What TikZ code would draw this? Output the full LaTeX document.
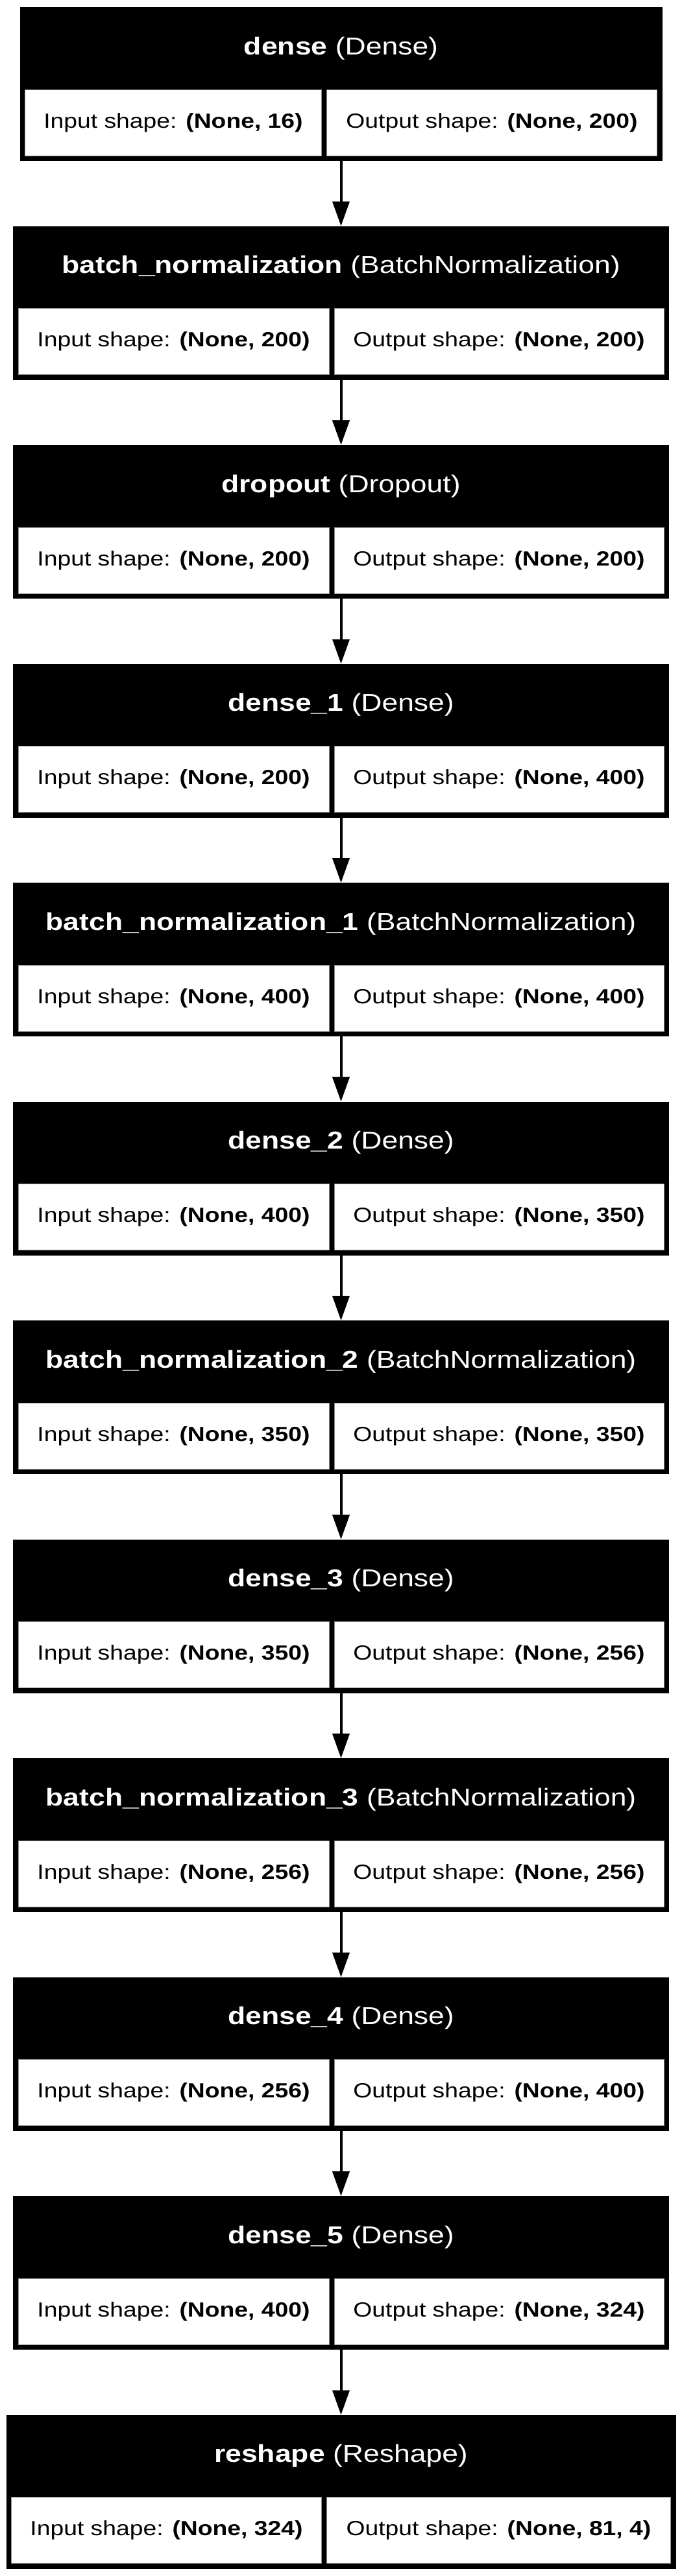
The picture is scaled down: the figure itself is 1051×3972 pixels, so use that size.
\documentclass[tikz,border=0pt]{standalone}
\usepackage{fontspec}
\setmainfont{Liberation Sans}[FakeStretch=1.18]
\usetikzlibrary{positioning,arrows.meta}
\tikzset{%
	layerbox/.style = {fill=black, rectangle, minimum height=237pt, inner sep=0pt, outer sep=0pt}, % Layer
	heading/.style  = {text=white, anchor=north, minimum height=127pt, inner sep=0pt, font=\fontsize{37.7}{44}\selectfont}, % Layer name
	iocell/.style   = {fill=white, draw=black!45, line width=1pt, rectangle, minimum height=102pt, inner sep=0pt, outer sep=0pt, font=\fontsize{31.6}{38}\selectfont}, % Shapes
	arrow/.style    = {line width=4pt, -{Triangle[length=38pt, width=26pt]}},
}
\begin{document}
\begin{tikzpicture}[x=1pt, y=1pt, node distance=100.5pt]
		\useasboundingbox (0,0) rectangle (1051,-3972);
		\node [layerbox, minimum width=990pt] (dense) at (525.5,-129.5) {};
		\node [heading] (dense-t) at (dense.north) {\textbf{dense} (Dense)};
		\node [iocell, minimum width=457pt, below right=127pt and 8pt of dense.north west] (dense-in) {Input shape: \textbf{(None, 16)}};
		\node [iocell, minimum width=509pt, right=8pt of dense-in] (dense-out) {Output shape: \textbf{(None, 200)}};
		
		\node [layerbox, minimum width=1011pt, below=of dense] (bn) {};
		\node [heading] (bn-t) at (bn.north) {\textbf{batch\_normalization} (BatchNormalization)};
		\node [iocell, minimum width=479pt, below right=127pt and 8pt of bn.north west] (bn-in) {Input shape: \textbf{(None, 200)}};
		\node [iocell, minimum width=508pt, right=8pt of bn-in] (bn-out) {Output shape: \textbf{(None, 200)}};
		
		\node [layerbox, minimum width=1011pt, below=of bn] (dropout) {};
		\node [heading] (dropout-t) at (dropout.north) {\textbf{dropout} (Dropout)};
		\node [iocell, minimum width=479pt, below right=127pt and 8pt of dropout.north west] (dropout-in) {Input shape: \textbf{(None, 200)}};
		\node [iocell, minimum width=508pt, right=8pt of dropout-in] (dropout-out) {Output shape: \textbf{(None, 200)}};
		
		\node [layerbox, minimum width=1011pt, below=of dropout] (dense1) {};
		\node [heading] (dense1-t) at (dense1.north) {\textbf{dense\_1} (Dense)};
		\node [iocell, minimum width=479pt, below right=127pt and 8pt of dense1.north west] (dense1-in) {Input shape: \textbf{(None, 200)}};
		\node [iocell, minimum width=508pt, right=8pt of dense1-in] (dense1-out) {Output shape: \textbf{(None, 400)}};
		
		\node [layerbox, minimum width=1011pt, below=of dense1] (bn1) {};
		\node [heading] (bn1-t) at (bn1.north) {\textbf{batch\_normalization\_1} (BatchNormalization)};
		\node [iocell, minimum width=479pt, below right=127pt and 8pt of bn1.north west] (bn1-in) {Input shape: \textbf{(None, 400)}};
		\node [iocell, minimum width=508pt, right=8pt of bn1-in] (bn1-out) {Output shape: \textbf{(None, 400)}};
		
		\node [layerbox, minimum width=1011pt, below=of bn1] (dense2) {};
		\node [heading] (dense2-t) at (dense2.north) {\textbf{dense\_2} (Dense)};
		\node [iocell, minimum width=479pt, below right=127pt and 8pt of dense2.north west] (dense2-in) {Input shape: \textbf{(None, 400)}};
		\node [iocell, minimum width=508pt, right=8pt of dense2-in] (dense2-out) {Output shape: \textbf{(None, 350)}};
		
		\node [layerbox, minimum width=1011pt, below=of dense2] (bn2) {};
		\node [heading] (bn2-t) at (bn2.north) {\textbf{batch\_normalization\_2} (BatchNormalization)};
		\node [iocell, minimum width=479pt, below right=127pt and 8pt of bn2.north west] (bn2-in) {Input shape: \textbf{(None, 350)}};
		\node [iocell, minimum width=508pt, right=8pt of bn2-in] (bn2-out) {Output shape: \textbf{(None, 350)}};
		
		\node [layerbox, minimum width=1011pt, below=of bn2] (dense3) {};
		\node [heading] (dense3-t) at (dense3.north) {\textbf{dense\_3} (Dense)};
		\node [iocell, minimum width=479pt, below right=127pt and 8pt of dense3.north west] (dense3-in) {Input shape: \textbf{(None, 350)}};
		\node [iocell, minimum width=508pt, right=8pt of dense3-in] (dense3-out) {Output shape: \textbf{(None, 256)}};
		
		\node [layerbox, minimum width=1011pt, below=of dense3] (bn3) {};
		\node [heading] (bn3-t) at (bn3.north) {\textbf{batch\_normalization\_3} (BatchNormalization)};
		\node [iocell, minimum width=479pt, below right=127pt and 8pt of bn3.north west] (bn3-in) {Input shape: \textbf{(None, 256)}};
		\node [iocell, minimum width=508pt, right=8pt of bn3-in] (bn3-out) {Output shape: \textbf{(None, 256)}};
		
		\node [layerbox, minimum width=1011pt, below=of bn3] (dense4) {};
		\node [heading] (dense4-t) at (dense4.north) {\textbf{dense\_4} (Dense)};
		\node [iocell, minimum width=479pt, below right=127pt and 8pt of dense4.north west] (dense4-in) {Input shape: \textbf{(None, 256)}};
		\node [iocell, minimum width=508pt, right=8pt of dense4-in] (dense4-out) {Output shape: \textbf{(None, 400)}};
		
		\node [layerbox, minimum width=1011pt, below=of dense4] (dense5) {};
		\node [heading] (dense5-t) at (dense5.north) {\textbf{dense\_5} (Dense)};
		\node [iocell, minimum width=479pt, below right=127pt and 8pt of dense5.north west] (dense5-in) {Input shape: \textbf{(None, 400)}};
		\node [iocell, minimum width=508pt, right=8pt of dense5-in] (dense5-out) {Output shape: \textbf{(None, 324)}};
		
		\node [layerbox, minimum width=1032pt, below=of dense5] (reshape) {};
		\node [heading] (reshape-t) at (reshape.north) {\textbf{reshape} (Reshape)};
		\node [iocell, minimum width=478pt, below right=127pt and 8pt of reshape.north west] (reshape-in) {Input shape: \textbf{(None, 324)}};
		\node [iocell, minimum width=530pt, right=8pt of reshape-in] (reshape-out) {Output shape: \textbf{(None, 81, 4)}};
		
		\draw[arrow] (dense) -- (bn);
		\draw[arrow] (bn) -- (dropout);
		\draw[arrow] (dropout) -- (dense1);
		\draw[arrow] (dense1) -- (bn1);
		\draw[arrow] (bn1) -- (dense2);
		\draw[arrow] (dense2) -- (bn2);
		\draw[arrow] (bn2) -- (dense3);
		\draw[arrow] (dense3) -- (bn3);
		\draw[arrow] (bn3) -- (dense4);
		\draw[arrow] (dense4) -- (dense5);
		\draw[arrow] (dense5) -- (reshape);
\end{tikzpicture}
\end{document}
